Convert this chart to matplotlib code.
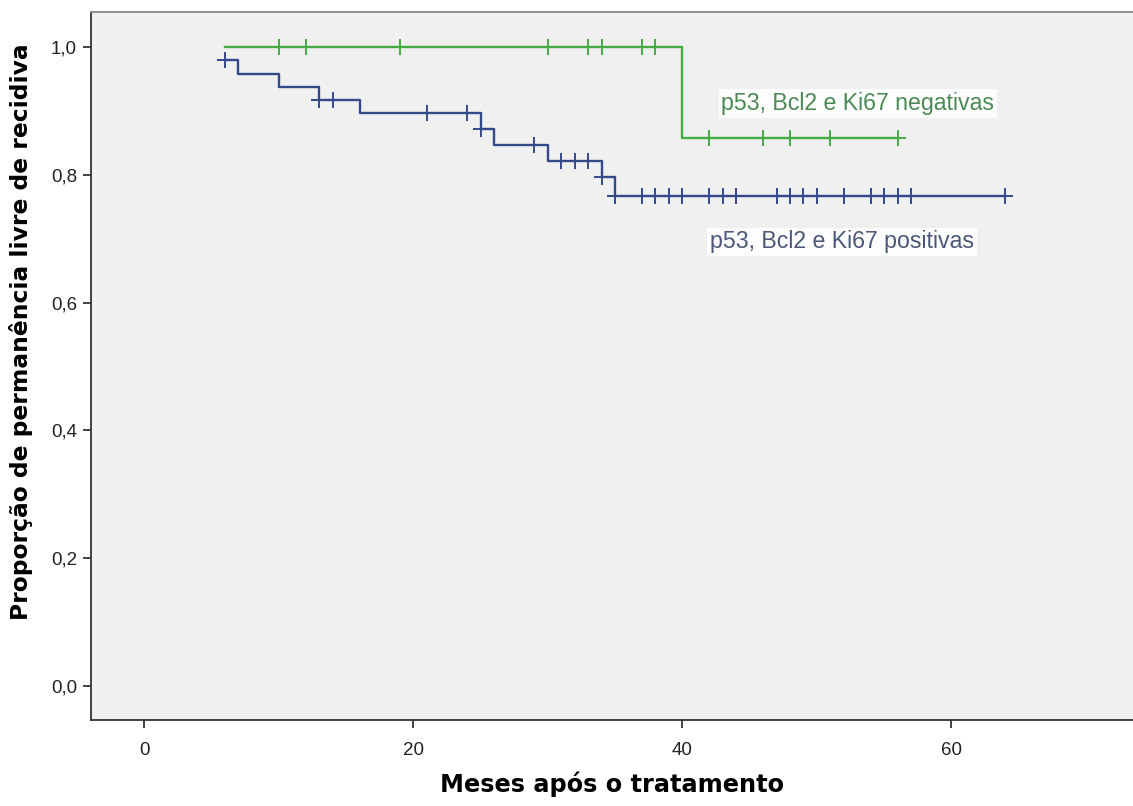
import matplotlib.pyplot as plt
import numpy as np

plt.rcParams['font.family'] = ['Liberation Sans', 'DejaVu Sans']

# curva de Kaplan-Meier: tempos de evento (meses) e proporcao apos cada degrau
neg_tempos = [6, 40]
neg_prop = [1.0, 0.857]
neg_censura = [10, 12, 19, 30, 33, 34, 37, 38, 42, 46, 48, 51, 56]
neg_fim = 56

pos_tempos = [6, 7, 10, 13, 16, 25, 26, 30, 34, 35]
pos_prop = [0.979, 0.958, 0.938, 0.917, 0.896, 0.872, 0.847, 0.822, 0.797, 0.767]
pos_censura = [6, 13, 14, 21, 24, 25, 29, 31, 32, 33, 34, 35, 37, 38, 39, 40,
               42, 43, 44, 47, 48, 49, 50, 52, 54, 55, 56, 57, 64]
pos_fim = 64

cor_neg = '#45ab45'
cor_pos = '#34488c'


def nivel(tempos, prop, t):
    idx = np.searchsorted(tempos, t, side='right') - 1
    return prop[max(idx, 0)]


def desenha(ax, tempos, prop, censura, fim, cor):
    xs = list(tempos) + [fim]
    ys = list(prop) + [prop[-1]]
    ax.step(xs, ys, where='post', color=cor, lw=1.7, zorder=3)
    cy = [nivel(tempos, prop, t) for t in censura]
    ax.plot(censura, cy, linestyle='none', marker='+', markersize=11,
            mew=1.4, color=cor, zorder=4)


fig = plt.figure(figsize=(11.33, 8.06), dpi=100)
ax = fig.add_axes([91 / 1133, 1 - 719.5 / 806, (1133 - 91) / 1133, (719.5 - 12) / 806])
ax.set_facecolor('#f0f0f0')

desenha(ax, neg_tempos, neg_prop, neg_censura, neg_fim, cor_neg)
desenha(ax, pos_tempos, pos_prop, pos_censura, pos_fim, cor_pos)

ax.set_xlim(-3.96, 73.5)
ax.set_ylim(-0.0524, 1.0548)
ax.set_xticks([0, 20, 40, 60])
ax.set_yticks([0.0, 0.2, 0.4, 0.6, 0.8, 1.0])
ax.set_yticklabels(['0,0', '0,2', '0,4', '0,6', '0,8', '1,0'])
ax.tick_params(labelsize=13.5, colors='#222222', length=6, width=1.2)
ax.tick_params(axis='x', pad=10)
ax.tick_params(axis='y', pad=4)

for s in ['left', 'bottom', 'top']:
    ax.spines[s].set_linewidth(1.3)
    ax.spines[s].set_color('#333333')
ax.spines['top'].set_color('#888888')
ax.spines['right'].set_visible(False)

ax.set_xlabel('Meses após o tratamento', fontsize=17.3, fontweight='bold',
              family='DejaVu Sans')
ax.set_ylabel('Proporção de permanência livre de recidiva', fontsize=16.8,
              fontweight='bold', family='DejaVu Sans')
ax.xaxis.set_label_coords(0.5, -0.073)
ax.yaxis.set_label_coords(-0.056, 0.548)

caixa = dict(facecolor='white', edgecolor='none', pad=2, alpha=0.9)
ax.text(42.9, 0.912, 'p53, Bcl2 e Ki67 negativas', fontsize=16.7, color='#4b8a55',
        va='center', ha='left', bbox=caixa)
ax.text(42.05, 0.695, 'p53, Bcl2 e Ki67 positivas', fontsize=16.7, color='#4b5878',
        va='center', ha='left', bbox=caixa)

fig.savefig('out.png', dpi=100)
